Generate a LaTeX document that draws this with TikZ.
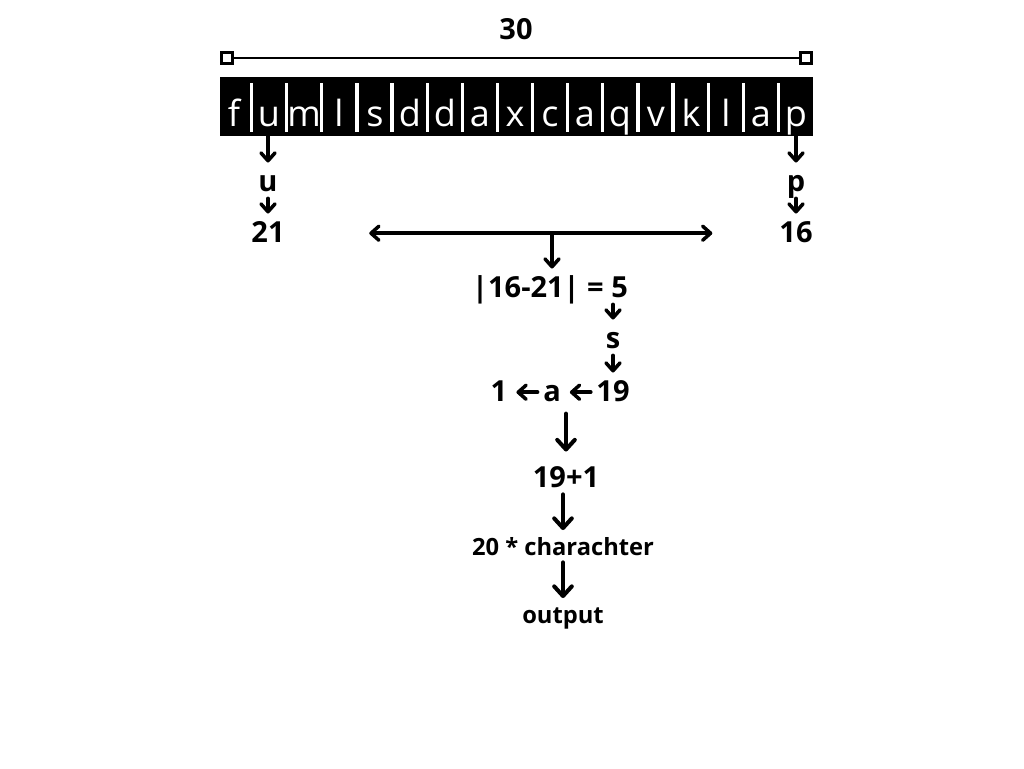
\documentclass[tikz,border=0pt]{standalone}
\usepackage{fontspec}
\setmainfont{Open Sans}
\usetikzlibrary{positioning}
\usetikzlibrary{arrows.meta}
\tikzstyle{cell}=[text=white, font=\fontsize{20.5}{22}\selectfont, anchor=base, inner sep=0pt]
\tikzstyle{val}=[font=\bfseries\fontsize{16.5}{18}\selectfont, anchor=base, text height=10pt, text depth=0pt, inner ysep=4pt, inner xsep=3pt]
\tikzstyle{smallval}=[val, font=\bfseries\fontsize{13.5}{16}\selectfont]
\tikzstyle{edge}=[draw, line width=2pt, line cap=round, -{Straight Barb[length=4.5pt,width=8pt,round]}, shorten >=2pt]
\tikzstyle{bigedge}=[draw, line width=2.3pt, line cap=round, -{Straight Barb[length=5.5pt,width=10pt,round]}]
\tikzstyle{divider}=[draw=white, line width=1.8pt]
\tikzstyle{endbox}=[rectangle, draw, fill=white, line width=1.5pt, minimum size=6pt, inner sep=0pt]

\begin{document}
\begin{tikzpicture}[x=0.02cm, y=-0.02cm]
   \useasboundingbox (0,0) rectangle (1024,768);

   % length of the word
   \node[endbox] (left) at (227,58) {};
   \node[endbox] (right) at (806,58) {};
   \draw[line width=1.5pt] (left) -- (right);
   \node[val] (len) at (516,39) {30};

   % the word, one letter per cell
   \node[fill=black, minimum width=11.86cm, minimum height=1.18cm, inner sep=0pt] (bar) at (516.5,106.5) {};
    \foreach \pos/\name/\ch in {234/c1/f, 269/c2/u, 304/c3/m, 339/c4/l, 375/c5/s, 410/c6/d, 445/c7/d, 480/c8/a, 515/c9/x,
                                550/c10/c, 585/c11/a, 620/c12/q, 656/c13/v, 691/c14/k, 726/c15/l, 761/c16/a, 796/c17/p}
            \node[cell] (\name) at (\pos,126) {\ch};
    \foreach \i in {1,...,16}
            \draw[divider] ({234+35.125*(\i-0.5)},83) -- ++(0,49);

   % first and last letter
   \node[val] (u) at (268,191) {u};
   \node[val] (p) at (796,191) {p};
   \node[val] (n21) at (268,242) {21};
   \node[val] (n16) at (796,242) {16};
   \draw[edge] (bar.south -| u) -- (u);
   \draw[edge] (bar.south -| p) -- (p);
   \draw[edge] (u) -- (n21);
   \draw[edge] (p) -- (n16);

   % distance between them
   \draw[edge, {Straight Barb[length=4.5pt,width=8pt,round]}-{Straight Barb[length=4.5pt,width=8pt,round]}, shorten <=45pt, shorten >=35pt] (n21) -- (n16);
   \coordinate (mid) at (552,233);
   \node[val] (diff) at (550,297) {|16-21| = 5};
   \draw[edge] (mid) -- (mid |- diff.north);

   \node[val] (s) at (613,348) {s};
   \node[val] (n19) at (613,401) {19};
   \node[val] (a) at (552,401) {a};
   \node[val] (one) at (499,401) {1};
   \draw[edge] (diff.south -| s) -- (s);
   \draw[edge] (s) -- (n19);
   \draw[edge] (n19) -- (a);
   \draw[edge] (a) -- (one);

   % count on
   \node[val] (sum) at (566,487) {19+1};
   \node[smallval] (char) at (563,555) {20 * charachter};
   \node[smallval] (out) at (563,623) {output};
   \draw[bigedge, shorten <=3pt, shorten >=6pt] (a.south -| sum) -- (sum);
   \draw[bigedge] (sum.south -| char) -- (char);
   \draw[bigedge] (char) -- (out);

\end{tikzpicture}
\end{document}
